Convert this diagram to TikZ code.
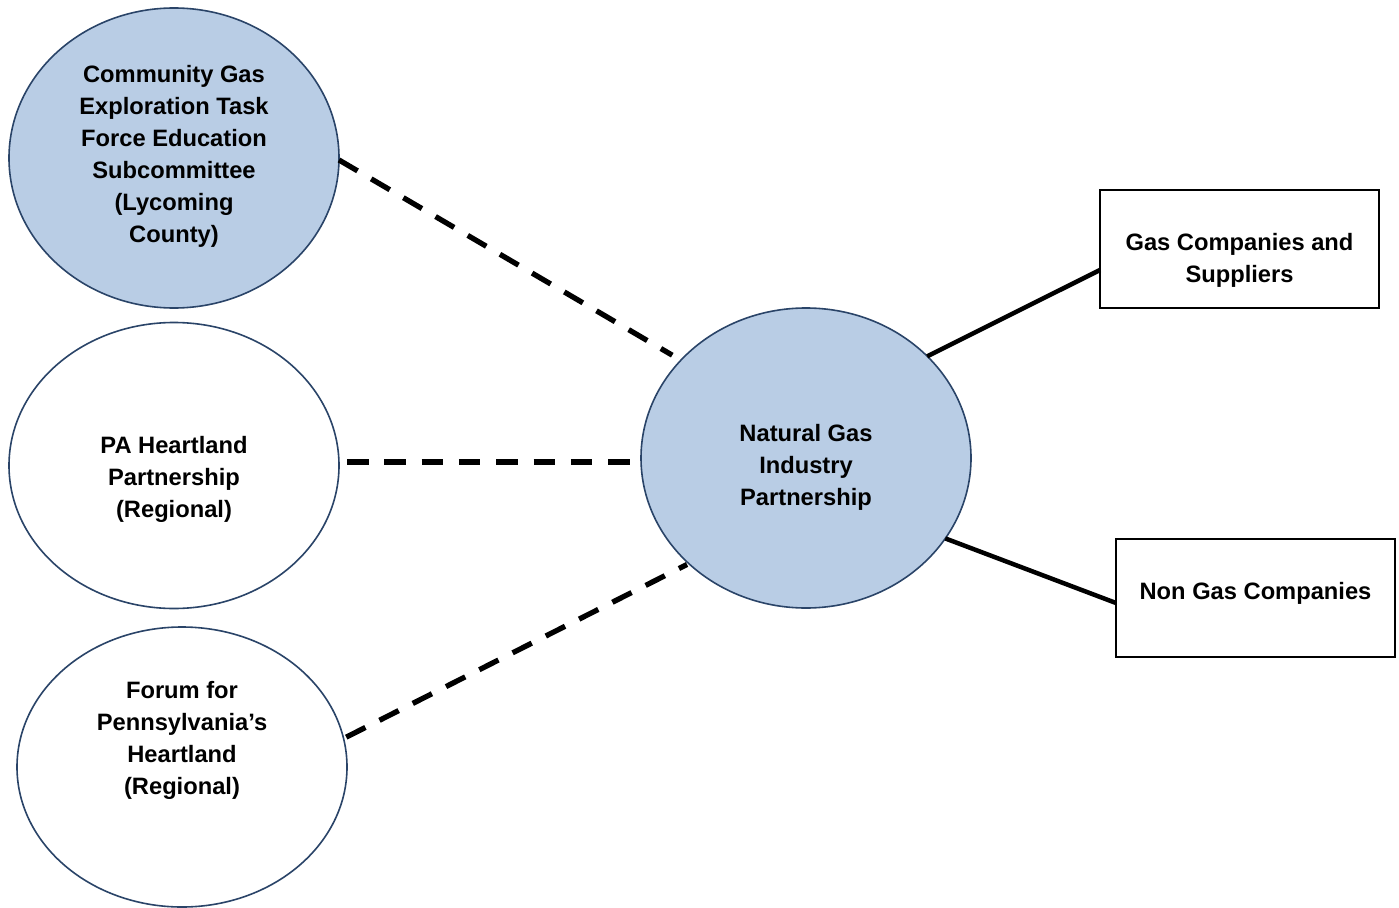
\documentclass[tikz,border=0pt]{standalone}
\usepackage{fontspec}
\setmainfont{Liberation Sans}
\usetikzlibrary{shapes.geometric}
\definecolor{fillblue}{HTML}{B9CDE5}
\definecolor{edgeblue}{HTML}{2A4468}
\begin{document}
\begin{tikzpicture}[x=1pt,y=-1pt,
  bubble/.style={ellipse, draw=edgeblue, line width=1.6pt, minimum width=330pt, inner sep=0pt, outer sep=0pt},
  lbl/.style={font=\bfseries\fontsize{23.7}{32}\selectfont, align=center, inner sep=0pt},
  boxnode/.style={draw=black, line width=1.6pt, minimum width=279pt, minimum height=118pt, inner sep=0pt, outer sep=0pt},
  dashlink/.style={line width=5.3pt, dash pattern=on 21.5pt off 15.8pt},
  solidlink/.style={line width=4.5pt}]
\useasboundingbox (0,0) rectangle (1399,907);
\fill[white] (0,0) rectangle (1399,907);
% ellipses
\node[bubble, fill=fillblue, minimum height=300pt] (e1) at (174,158) {};
\node[bubble, fill=white, minimum height=286pt] (e2) at (174,465.5) {};
\node[bubble, fill=white, minimum height=280pt] (e3) at (182,767) {};
\node[bubble, fill=fillblue, minimum height=300pt] (c) at (806,458) {};
% boxes
\node[boxnode, fill=white] (b1) at (1239.5,249) {};
\node[boxnode, fill=white] (b2) at (1255.5,598) {};
% texts
\node[lbl] (t1) at (174,156) {Community Gas\\Exploration Task\\Force Education\\Subcommittee\\(Lycoming\\County)};
\node[lbl] (t2) at (174,479) {PA Heartland\\Partnership\\(Regional)};
\node[lbl] (t3) at (182,740) {Forum for\\Pennsylvania’s\\Heartland\\(Regional)};
\node[lbl] (tc) at (806,467) {Natural Gas\\Industry\\Partnership};
\node[lbl] (tb1) at (1239.5,260) {Gas Companies and\\Suppliers};
\node[lbl] (tb2) at (1255.5,593) {Non Gas Companies};
% connectors
\draw[dashlink, shorten >=10pt] ([yshift=-2pt]e1.east) -- (c.142);
\draw[dashlink, shorten <=8pt, shorten >=11pt] ([yshift=3.5pt]e2.east) -- ([yshift=3.5pt]e2.east -| c.west);
\draw[dashlink, shorten <=3pt, shorten >=2pt] (e3.10) -- (c.222);
\draw[solidlink] (c.40) -- ([yshift=-21pt]b1.west);
\draw[solidlink] (c.330) -- ([yshift=-5pt]b2.west);
\end{tikzpicture}
\end{document}
